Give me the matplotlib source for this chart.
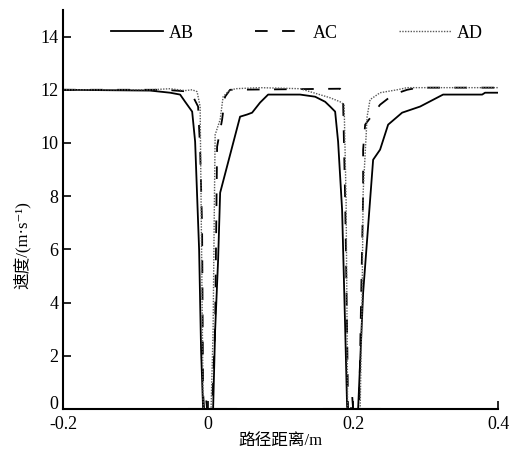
import numpy as np
import matplotlib
matplotlib.use('Agg')
import matplotlib.pyplot as plt
import matplotlib.transforms as mtransforms

plt.rcParams['font.family'] = ['Liberation Serif', 'Noto Sans CJK SC', 'DejaVu Sans']
plt.rcParams['axes.unicode_minus'] = False

# AB (solid)
ab_x = [-0.2, -0.08, -0.0524, -0.0386, -0.0317, -0.022, -0.0179, -0.0152, -0.0124, -0.0097, -0.0069,
        0.0069, 0.0097, 0.0138, 0.0166, 0.0441, 0.0538, 0.0607, 0.0717, 0.0828, 0.1269, 0.1476,
        0.1614, 0.1683, 0.1752, 0.1793, 0.1848, 0.189, 0.1917, 0.193,
        0.2069, 0.2138, 0.2276, 0.2372, 0.2483, 0.2676, 0.2924, 0.3241, 0.378, 0.382, 0.4]
ab_y = [12.0, 11.97, 11.89, 11.82, 11.55, 11.18, 10.05, 8.05, 5.98, 2.22, 0.0,
        0.0, 2.97, 5.61, 8.13, 10.99, 11.07, 11.14, 11.52, 11.82, 11.82, 11.74,
        11.55, 11.37, 11.18, 10.05, 7.49, 3.09, 0.08, 0.0,
        0.0, 4.37, 9.37, 9.75, 10.69, 11.14, 11.37, 11.82, 11.82, 11.89, 11.89]

# AC (dashed)
ac_x = [-0.2, -0.06, -0.0248, -0.0207, -0.0138, -0.011, -0.0083, -0.0069, -0.0055,
        -0.0041, -0.0028, -0.0014, 0.0055, 0.0097, 0.0124, 0.0193, 0.0234, 0.0303,
        0.182, 0.186, 0.189, 0.1917, 0.193, 0.197, 0.1986, 0.2, 0.2083, 0.211, 0.2138,
        0.2138, 0.2166, 0.2372, 0.2552, 0.2745, 0.2897, 0.4]
ac_y = [12.0, 12.0, 11.93, 11.74, 11.37, 9.75, 6.85, 0.6, 0.0,
        0.0, 0.4, 0.0, 0.0, 3.09, 9.86, 10.88, 11.74, 12.0,
        12.04, 11.82, 7.87, 2.97, 0.0, 0.0, 0.53, 0.0, 0.0, 4.1, 8.05,
        9.75, 10.69, 11.44, 11.82, 12.0, 12.08, 12.08]

# AD (dotted)
ad_x = [-0.2, -0.08, -0.0524, -0.0317, -0.022, -0.0152, -0.011, -0.0097, -0.0083, -0.0069, -0.0062,
        0.0041, 0.0069, 0.0083, 0.0097, 0.0166, 0.0207, 0.0276, 0.0372, 0.0717, 0.1269,
        0.1683, 0.182, 0.1876, 0.1903, 0.1917, 0.1924,
        0.2097, 0.2124, 0.2138, 0.2193, 0.2234, 0.2372, 0.2607, 0.2745, 0.4]
ad_y = [12.0, 12.0, 12.04, 11.97, 12.0, 11.93, 11.37, 7.87, 4.1, 0.34, 0.0,
        0.0, 2.97, 6.85, 10.31, 10.88, 11.74, 11.93, 12.04, 12.08, 12.04,
        11.7, 11.55, 11.44, 7.87, 2.97, 0.0,
        0.0, 4.1, 8.13, 10.99, 11.63, 11.89, 12.0, 12.08, 12.08]

# zero-speed stretches drawn along the axis
zero_ranges = [(-0.028, 0.039), (0.159, 0.237)]

fig = plt.figure(figsize=(5.13, 4.53), dpi=100)
ax = fig.add_axes([0.123, 0.097, 0.848, 0.881])

for x0, x1 in zero_ranges:
    ax.plot([x0, x1], [0.05, 0.05], color='0.55', lw=0.8)

ax.plot(ab_x, ab_y, color='k', lw=1.3, label='AB')
ax.plot(ac_x, ac_y, color='k', lw=1.3, linestyle=(0, (7, 8)), label='AC')
ax.plot(ad_x, ad_y, color='0.35', lw=1.0, linestyle=(0, (1, 1)), label='AD')

ax.set_xlim(-0.2, 0.4)
ax.set_ylim(0, 15)
ax.set_xticks([-0.2, 0, 0.2, 0.4])
ax.set_xticklabels(['-0.2', '0', '0.2', '0.4'])
ax.set_yticks(np.arange(0, 15, 2))

for s in ['top', 'right']:
    ax.spines[s].set_visible(False)
for s in ['left', 'bottom']:
    ax.spines[s].set_linewidth(1.5)

ax.tick_params(direction='in', length=6, width=1.2, labelsize=13)
ax.tick_params(axis='x', pad=5)

# lift the y "0" a little so it sits above "-0.2"
lab0 = ax.get_yticklabels()[0]
lab0.set_transform(lab0.get_transform() + mtransforms.ScaledTranslation(0, 5 / 72, fig.dpi_scale_trans))

ax.set_xlabel('路径距离/m', fontsize=12, labelpad=0)
ax.set_ylabel('速度/(m·s⁻¹)', fontsize=12)
ax.yaxis.set_label_coords(-0.075, 0.41)

ax.legend(loc='center', bbox_to_anchor=(0.537, 0.942), ncol=3, frameon=False,
          fontsize=13, handlelength=2.9, handletextpad=0.3, columnspacing=3.4)

plt.savefig('out.png', dpi=100)
